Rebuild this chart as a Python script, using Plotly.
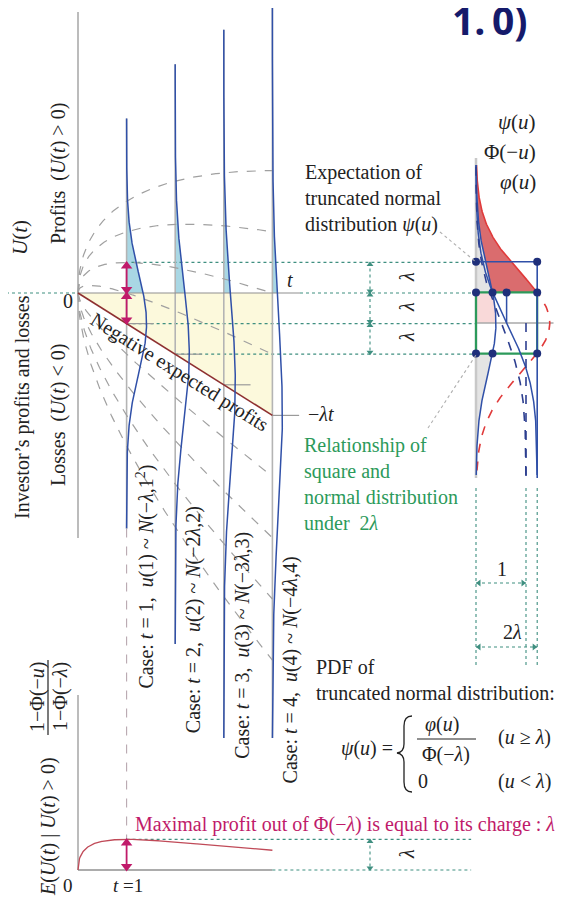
import math
import numpy as np
import plotly.graph_objects as go

# ---------------- data ----------------
LAMBDA = 0.612                                # charge λ  (φ(λ)/Φ(−λ) = 2λ)
T_CASES = [1, 2, 3, 4]                        # time steps drawn as distributions
K_QUANTILES = [4, 3, 2, 1, -1, -2, -3, -4]    # dashed curves U = −λt + kλ√t
SD_EXTENT = 4.1                               # drawn half-width of each density (sd)
U_CUT = -8.9                                  # lowest U drawn for the densities
T_MAX = 4
U_RIGHT_TOP = 3.16                            # right panel u-range of curves
U_RIGHT_BOT = -3.04
CASE_LABELS = [
    "Case: <i>t</i> = 1,  <i>u</i>(1) ~ <i>N</i>(−<i>λ</i>,1<sup>2</sup>)",
    "Case: <i>t</i> = 2,  <i>u</i>(2) ~ <i>N</i>(−2<i>λ</i>,2)",
    "Case: <i>t</i> = 3,  <i>u</i>(3) ~ <i>N</i>(−3<i>λ</i>,3)",
    "Case: <i>t</i> = 4,  <i>u</i>(4) ~ <i>N</i>(−4<i>λ</i>,4)",
]
RIGHT_LABELS = ["<i>ψ</i>(<i>u</i>)", "Φ(−<i>u</i>)", "<i>φ</i>(<i>u</i>)"]

# ---------------- layout constants (page pixels) ----------------
W, H = 563, 899
OFF = 8                       # page body margin in the browser
T0_PX, T_PX = 78, 48.6        # left panel: t = 0 position, px per unit t
U0_PX, U_PX = 293, 50         # left panel: U = 0 position, px per unit U
V0_PX = 476                   # right panel: density = 0
UR0_PX = 323                  # right panel: u = 0
E0_PX = 870                   # bottom panel: E = 0
DENS_T = U_PX / T_PX          # one density unit drawn as 50 px along t

SERIF = "Liberation Serif, DejaVu Serif, serif"
DGRAY = "#a0a0a0"
BLUE = "#3050a8"
TEAL = "#3f8f80"
MAGENTA = "#c01a6a"
GREEN = "#2c9a5b"
RED = "#e03a3a"
NAVY = "#1f2f7a"


def pdf(z):
    z = np.asarray(z, dtype=float)
    return np.exp(-0.5 * z * z) / math.sqrt(2 * math.pi)


_erf = np.vectorize(math.erf)


def cdf(z):
    return 0.5 * (1 + _erf(np.asarray(z, dtype=float) / math.sqrt(2)))


def px_t(px):
    return (px - T0_PX) / T_PX


def px_u(py):
    return (U0_PX - py) / U_PX


def px_ur(py):
    return (UR0_PX - py) / U_PX


def px_e(py):
    return (E0_PX - py) / U_PX


fig = go.Figure()


def line(x, y, color, width=1.2, dash=None, xa="x", ya="y", fill=None, fillcolor=None):
    fig.add_trace(go.Scatter(
        x=list(x), y=list(y), mode="lines", xaxis=xa, yaxis=ya,
        line=dict(color=color, width=width, dash=dash),
        fill=fill, fillcolor=fillcolor, hoverinfo="skip", showlegend=False))


def markers(x, y, symbol, color, size, xa="x", ya="y"):
    fig.add_trace(go.Scatter(
        x=list(x), y=list(y), mode="markers", xaxis=xa, yaxis=ya,
        marker=dict(symbol=symbol, color=color, size=size, line=dict(width=0)),
        hoverinfo="skip", showlegend=False))


def darrow(x, y0, y1, ya):
    # double-headed magenta arrow drawn as a line with triangle heads
    line([x, x], [y0, y1], MAGENTA, 1.8, ya=ya)
    up, dn = (y1, y0) if y1 > y0 else (y0, y1)
    markers([x], [up - 0.07], "triangle-up", MAGENTA, 10, ya=ya)
    markers([x], [dn + 0.07], "triangle-down", MAGENTA, 10, ya=ya)


lam = LAMBDA
T_RIGHT = px_t(V0_PX)

# ---------------- left panel ----------------
line([0, T_MAX, T_MAX, 0], [0, 0, -lam * T_MAX, 0], "rgba(0,0,0,0)", 0,
     fill="toself", fillcolor="#fcf9dc")

for t in T_CASES:
    sd, mu = math.sqrt(t), -lam * t
    hi = mu + SD_EXTENT * sd
    Up = np.linspace(0, hi, 200)
    xs = np.concatenate([[t], t + DENS_T * pdf((Up - mu) / sd) / sd, [t]])
    ys = np.concatenate([[0], Up, [hi]])
    line(xs, ys, "rgba(0,0,0,0)", 0, fill="toself", fillcolor="#a9d7e4")

dot_w = 1.2
line([1.1, T_RIGHT], [lam, lam], TEAL, dot_w, "dot")
line([px_t(0), 0], [0, 0], TEAL, dot_w, "dot")
line([px_t(300), T_RIGHT], [0, 0], TEAL, dot_w, "dot")
line([1.0, T_RIGHT], [-lam, -lam], TEAL, dot_w, "dot")
line([2.0, T_RIGHT], [-2 * lam, -2 * lam], TEAL, dot_w, "dot")

for t in T_CASES:
    sd, mu = math.sqrt(t), -lam * t
    lo, hi = max(mu - SD_EXTENT * sd, U_CUT), mu + SD_EXTENT * sd
    line([t, t], [lo, hi], "#b4b4b4", 1.6)
    line([t, t + 0.55], [mu, mu], "#9a9a9a", 1.2)

line([0, 0], [px_u(12), px_u(538)], "#a0a0a0", 1.4)
line([0, px_t(300)], [0, 0], "#909090", 1.2)

tt = np.linspace(0, T_MAX, 300)
for k in K_QUANTILES:
    line(tt, -lam * tt + k * lam * np.sqrt(tt), DGRAY, 1.2, "dash")

line([0, T_MAX], [0, -lam * T_MAX], "#8e3030", 1.6)

for t in T_CASES:
    sd, mu = math.sqrt(t), -lam * t
    lo, hi = max(mu - SD_EXTENT * sd, U_CUT), mu + SD_EXTENT * sd
    U = np.linspace(lo, hi, 400)
    line(t + DENS_T * pdf((U - mu) / sd) / sd, U, BLUE, 1.5)

t_dim = px_t(370)
for a, b in [(lam, 0), (0, -lam), (-lam, -2 * lam)]:
    line([t_dim, t_dim], [a, b], TEAL, 1.1, "dot")
    markers([t_dim], [a - 0.04], "triangle-up", TEAL, 6)
    markers([t_dim], [b + 0.04], "triangle-down", TEAL, 6)

darrow(1, 0, lam, "y")
darrow(1, 0, -lam, "y")

# ---------------- bottom panel ----------------
line([0, 0], [0, px_e(695)], "#a0a0a0", 1.4, ya="y3")
line([0, T_MAX], [0, 0], "#909090", 1.4, ya="y3")
line([1, T_RIGHT - 0.1], [lam, lam], TEAL, dot_w, "dot", ya="y3")
line([T_MAX, T_RIGHT - 0.1], [0, 0], TEAL, dot_w, "dot", ya="y3")
t1_bottom_px = U0_PX - U_PX * (-lam - SD_EXTENT)
line([1, 1], [px_e(t1_bottom_px), lam], "#b8a8b0", 1.1, "dash", ya="y3")
te = np.linspace(0, T_MAX, 400)
se = np.sqrt(te)
E = (se * pdf(lam * se) - lam * te * cdf(-lam * se)) / cdf(-lam)
line(te, E, "#c04a58", 1.3, ya="y3")
line([t_dim, t_dim], [lam, 0], TEAL, 1.1, "dot", ya="y3")
markers([t_dim], [lam - 0.04], "triangle-up", TEAL, 6, ya="y3")
markers([t_dim], [0.04], "triangle-down", TEAL, 6, ya="y3")
darrow(1, 0, lam, "y3")

# ---------------- right panel ----------------
XA, YA = "x2", "y2"
ur = np.linspace(U_RIGHT_BOT, U_RIGHT_TOP, 500)
for a, b in [(lam, U_RIGHT_TOP), (U_RIGHT_BOT, -lam)]:
    uu = np.linspace(a, b, 200)
    line(np.concatenate([[0], pdf(uu), [0]]), np.concatenate([[a], uu, [b]]),
         "rgba(0,0,0,0)", 0, xa=XA, ya=YA, fill="toself", fillcolor="#e4e4e4")
uu = np.linspace(0, lam, 100)
line(np.concatenate([[0], pdf(uu), [0]]), np.concatenate([[0], uu, [lam]]),
     "rgba(0,0,0,0)", 0, xa=XA, ya=YA, fill="toself", fillcolor="#f9d9d9")
uu = np.linspace(lam, U_RIGHT_TOP, 200)
line(np.concatenate([pdf(uu), (pdf(uu) / cdf(-lam))[::-1]]),
     np.concatenate([uu, uu[::-1]]),
     "rgba(0,0,0,0)", 0, xa=XA, ya=YA, fill="toself", fillcolor="rgba(210,76,78,0.82)")

line([0, 0], [px_ur(158), px_ur(478)], "#c8c8c8", 2.5, xa=XA, ya=YA)
line([0, 1.55], [0, 0], "#a8a8a8", 1.6, xa=XA, ya=YA)
for v in [0, 1, 2 * lam]:
    line([v, v], [px_ur(488), px_ur(665)], TEAL, 1.1, "dot", xa=XA, ya=YA)
for v, py in [(1, 583), (2 * lam, 647)]:
    line([0, v], [px_ur(py)] * 2, TEAL, 1.1, "dot", xa=XA, ya=YA)
    markers([0.06], [px_ur(py)], "triangle-left", TEAL, 6, xa=XA, ya=YA)
    markers([v - 0.06], [px_ur(py)], "triangle-right", TEAL, 6, xa=XA, ya=YA)

uu = np.linspace(lam, U_RIGHT_TOP, 200)
line(pdf(uu) / cdf(-lam), uu, RED, 1.6, xa=XA, ya=YA)
uu = np.linspace(-2.95, lam, 200)
line(pdf(uu) / cdf(-lam), uu, RED, 1.6, "dash", xa=XA, ya=YA)

line([0, 2 * lam, 2 * lam, 0, 0], [lam, lam, -lam, -lam, lam], GREEN, 2.2, xa=XA, ya=YA)

line(pdf(ur), ur, BLUE, 1.5, xa=XA, ya=YA)
line(2 * lam * cdf(-ur), ur, BLUE, 1.5, xa=XA, ya=YA)
line(cdf(-ur), ur, "#2d3f90", 1.6, "dash", xa=XA, ya=YA)
line([1, 1], [0, px_ur(478)], "#2d3f90", 1.6, "dash", xa=XA, ya=YA)
line([0, 2 * lam, 2 * lam], [2 * lam, 2 * lam, px_ur(478)], BLUE, 1.6, xa=XA, ya=YA)
line([lam, lam], [lam, 0], BLUE, 1.5, xa=XA, ya=YA)
phl = float(pdf(lam))
markers([0, 2 * lam, 0, phl, lam, 2 * lam, 0, phl, 2 * lam],
        [2 * lam, 2 * lam, lam, lam, lam, lam, -lam, -lam, -lam],
        "circle", NAVY, 8, xa=XA, ya=YA)

annotations = []


def txt(x, y, text, size=20, color="#222", angle=0, xanchor="center",
        yanchor="middle", family=SERIF, align="left"):
    annotations.append(dict(
        x=x, y=y, xref="x4", yref="y4", text=text, showarrow=False,
        textangle=angle, xanchor=xanchor, yanchor=yanchor, align=align,
        font=dict(family=family, size=size, color=color)))


txt(529, 19, "<b>1.\u20090)</b>", 39, "#151a6b", xanchor="right",
    family="Open Sans, Liberation Sans, sans-serif")

txt(20, 238, "<i>U</i>(<i>t</i>)", 21, angle=-90)
txt(58, 174, "Profits  (<i>U</i>(<i>t</i>) > 0)", 20, angle=-90)
txt(68, 301, "0", 20)
txt(22, 407, "Investor’s profits and losses", 20, angle=-90)
txt(58, 415, "Losses  (<i>U</i>(<i>t</i>) < 0)", 20, angle=-90)
txt(180, 372, "Negative expected profits", 20, angle=32)
txt(290, 280, "<i>t</i>", 20)
txt(306, 414, "−<i>λt</i>", 20, xanchor="left")
for i, lab in enumerate(CASE_LABELS):
    cx = T0_PX + T_PX * T_CASES[i] + 18
    cy = [577, 620, 645, 670][i]
    txt(cx, cy, lab, 20, angle=-90)

for cy in [277, 307, 337, 854]:
    txt(407, cy, "<i>λ</i>", 20, angle=-90)

for lab, cy in zip(RIGHT_LABELS, [122, 152, 182]):
    txt(538, cy, lab, 21, xanchor="right")
txt(303, 198, "Expectation of<br>truncated normal<br>distribution <i>ψ</i>(<i>u</i>)", 20,
    xanchor="left")
txt(302, 484, "Relationship of<br>square and<br>normal distribution<br>under  2<i>λ</i>", 20,
    GREEN, xanchor="left")
txt(502, 569, "1", 20)
txt(512, 632, "2<i>λ</i>", 20)

txt(314, 680, "PDF of<br>truncated normal distribution:", 20, xanchor="left")
txt(395, 748, "<i>ψ</i>(<i>u</i>) =", 20, xanchor="right")
txt(442, 724, "<i>φ</i>(<i>u</i>)", 20)
txt(446, 754, "Φ(−<i>λ</i>)", 20)
txt(524, 737, "(<i>u</i> ≥ <i>λ</i>)", 20)
txt(423, 781, "0", 20)
txt(524, 781, "(<i>u</i> < <i>λ</i>)", 20)

txt(133, 824, "Maximal profit out of Φ(−<i>λ</i>) is equal to its charge : <i>λ</i>", 20,
    MAGENTA, xanchor="left")
txt(68, 898, "0", 19, yanchor="bottom")
txt(128, 898, "<i>t</i> =1", 19, yanchor="bottom")
txt(48, 827, "<i>E</i>(<i>U</i>(<i>t</i>) | <i>U</i>(<i>t</i>) > 0)", 20, angle=-90)
txt(37, 697, "1−Φ(−<i>u</i>)", 20, angle=-90)
txt(60, 697, "1−Φ(−<i>λ</i>)", 20, angle=-90)

shapes = [
    dict(type="line", xref="x4", yref="y4", x0=417, x1=476, y0=739, y1=739,
         line=dict(color="#222", width=1.2)),
    dict(type="line", xref="x4", yref="y4", x0=48, x1=48, y0=660, y1=735,
         line=dict(color="#222", width=1.2)),
    dict(type="path", xref="x4", yref="y4",
         path="M 412 716 Q 404 716 404 726 L 404 744 Q 404 752 397 753 "
              "Q 404 754 404 762 L 404 782 Q 404 792 412 792",
         line=dict(color="#222", width=1.3)),
    dict(type="line", xref="x4", yref="y4", x0=440, y0=232, x1=476, y1=262,
         line=dict(color="#b0b0b0", width=1.1, dash="dot")),
    dict(type="line", xref="x4", yref="y4", x0=428, y0=428, x1=476, y1=355,
         line=dict(color="#b0b0b0", width=1.1, dash="dot")),
]

# figure occupies page pixels [OFF, W] x [OFF, H]
hidden = dict(visible=False, fixedrange=True, showgrid=False, zeroline=False)
fig.update_layout(
    width=W - OFF, height=H - OFF, autosize=False,
    margin=dict(l=0, r=0, t=0, b=0),
    paper_bgcolor="white", plot_bgcolor="white",
    showlegend=False,
    xaxis=dict(range=[(OFF - T0_PX) / T_PX, (W - T0_PX) / T_PX], domain=[0, 1], **hidden),
    yaxis=dict(range=[(U0_PX - H) / U_PX, (U0_PX - OFF) / U_PX], domain=[0, 1], **hidden),
    xaxis2=dict(range=[(OFF - V0_PX) / U_PX, (W - V0_PX) / U_PX], overlaying="x", **hidden),
    yaxis2=dict(range=[(UR0_PX - H) / U_PX, (UR0_PX - OFF) / U_PX], overlaying="y", **hidden),
    yaxis3=dict(range=[(E0_PX - H) / U_PX, (E0_PX - OFF) / U_PX], overlaying="y", **hidden),
    xaxis4=dict(range=[OFF, W], overlaying="x", **hidden),
    yaxis4=dict(range=[H, OFF], overlaying="y", **hidden),
    annotations=annotations,
    shapes=shapes,
)

fig.write_html("out.html")
